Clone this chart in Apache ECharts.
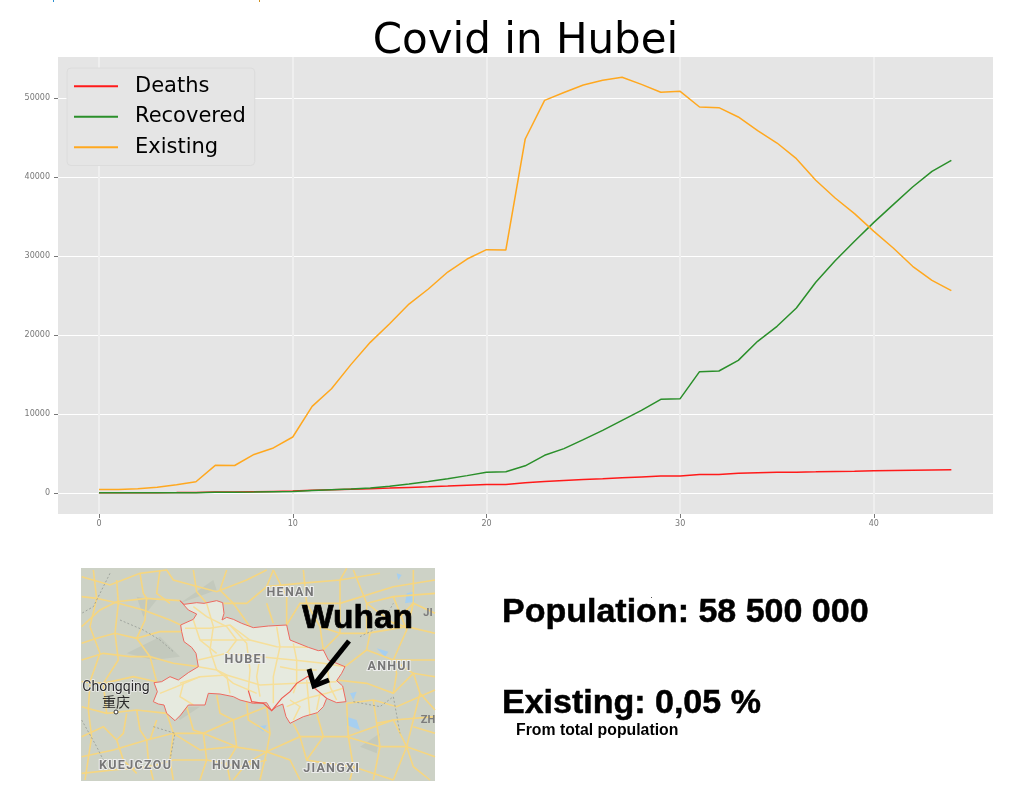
<!DOCTYPE html>
<html><head><meta charset="utf-8">
<style>html,body{margin:0;padding:0;background:#fff}#c{width:1012px;height:808px}</style>
<script src="https://cdn.jsdelivr.net/npm/echarts@6/dist/echarts.min.js"></script>
</head><body><div id="c"></div>
<script>
const days = [0,1,2,3,4,5,6,7,8,9,10,11,12,13,14,15,16,17,18,19,20,21,22,23,24,25,26,27,28,29,30,31,32,33,34,35,36,37,38,39,40,41,42,43,44];
const deaths = [17,17,24,40,52,76,125,125,162,204,249,350,414,479,549,618,699,780,871,974,1068,1068,1310,1457,1596,1696,1789,1921,2029,2144,2144,2346,2346,2495,2563,2615,2641,2682,2727,2761,2803,2835,2871,2902,2931];
const recovered = [28,28,31,32,42,44,80,84,116,166,200,320,420,500,640,850,1130,1450,1800,2200,2640,2690,3440,4770,5620,6750,7930,9200,10460,11860,11940,15360,15440,16790,19200,21100,23420,26670,29410,31860,34260,36500,38730,40720,42110];
const existing = [444,444,549,729,1052,1423,3500,3480,4880,5700,7090,10970,13200,16250,19070,21430,23920,25820,27970,29620,30800,30760,44810,49700,50700,51650,52240,52620,51730,50720,50840,48860,48780,47600,45860,44300,42320,39580,37340,35360,33120,31010,28700,26920,25610];
const xTicks = [0,10,20,30,40];
const yTicks = [0,10000,20000,30000,40000,50000];
const titleText = 'Covid in Hubei';
const infoTexts = ['Population: 58 500 000','Existing: 0,05 %','From total population'];

// Map illustration, outline and roads in crop coordinates
const Z = p => [60 + p[0]/3, 560 + p[1]/3];
const hubei = [[360,122],[372,133],[410,128],[432,130],[470,122],[488,128],[492,160],[486,180],[500,172],[520,178],[545,190],[580,203],[625,198],[680,195],[690,240],[720,252],[745,262],[775,272],[790,270],[805,300],[855,320],[845,340],[830,362],[848,378],[858,425],[830,428],[800,415],[790,440],[772,458],[730,470],[690,490],[678,470],[668,432],[650,440],[635,452],[620,428],[580,430],[540,420],[520,410],[480,402],[445,400],[435,435],[385,435],[362,465],[345,482],[320,460],[312,435],[295,432],[280,425],[292,395],[282,368],[305,365],[330,350],[355,360],[385,338],[415,320],[408,280],[395,262],[372,245],[365,215],[362,195],[400,178],[410,162],[385,150]];
const wuhanEdge = [[565,392],[575,425],[610,430],[635,452],[665,415],[690,395],[710,370],[745,348],[765,385],[800,415]];
const roads = [
[[65,50],[150,75],[240,40],[320,30],[340,60],[470,95],[560,60],[620,30]],
[[65,200],[120,150],[170,125],[260,115],[360,122]],
[[170,60],[175,130],[165,220],[175,300],[130,370],[140,460]],
[[240,40],[250,100],[260,115],[255,180],[230,235],[270,290],[290,365]],
[[65,300],[130,280],[210,290],[270,290],[340,310],[415,320]],
[[65,365],[130,370],[220,350],[290,365]],
[[65,440],[140,460],[230,450],[320,460],[340,520],[330,600],[340,660]],
[[65,530],[130,500],[170,540],[190,600],[230,640]],
[[65,590],[160,570],[260,540],[340,520],[430,520],[520,480],[620,440]],
[[340,520],[420,570],[520,560],[620,575],[720,530],[860,530],[1000,480],[1125,470]],
[[620,440],[630,520],[620,575],[600,660]],
[[620,575],[690,600],[720,660]],
[[720,530],[700,490]],
[[860,430],[865,530],[880,620],[870,660]],
[[1000,480],[1040,560],[1125,590]],
[[860,530],[960,560],[1040,560],[1000,660]],
[[430,520],[440,600],[420,660]],
[[520,480],[530,560],[500,610],[510,660]],
[[260,540],[265,600],[280,660]],
[[860,430],[940,420],[1010,440],[1125,390]],
[[855,320],[920,270],[1000,300],[1125,300]],
[[830,360],[920,370],[1000,400],[1060,340],[1125,350]],
[[790,270],[840,220],[920,220],[1040,200],[1125,220]],
[[840,220],[840,130],[840,60],[860,25]],
[[920,220],[920,130],[1000,110],[1125,100]],
[[680,195],[720,130],[840,130],[1000,80],[1125,60]],
[[620,80],[720,70],[840,60],[960,40]],
[[1000,110],[1040,210],[1000,300],[1010,340],[1000,400]],
[[490,130],[560,130],[620,80],[640,30]],
[[1060,30],[1060,130],[1040,210]],
[[65,110],[110,115],[175,130],[250,150],[330,180],[362,195]],
[[65,250],[110,235],[165,220],[230,235],[300,215],[365,215]],
[[100,30],[110,115],[90,200],[120,280],[90,365],[85,450],[95,530],[75,660]],
[[300,30],[290,100],[330,130]],
[[400,30],[410,95],[440,130]],
[[500,30],[480,90],[520,130],[570,200]],
[[65,640],[160,630],[270,620],[340,600],[440,600],[540,620],[620,600]],
[[200,460],[190,520],[170,540]],
[[230,450],[240,510],[260,540]],
[[290,480],[270,540]],
[[380,440],[400,510],[430,520]],
[[470,405],[480,460],[520,480]],
[[560,425],[565,480],[630,520]],
[[430,520],[530,560]],
[[640,30],[680,110],[680,195]],
[[730,30],[740,130],[780,200],[790,270]],
[[620,130],[640,190]],
[[780,200],[840,220]],
[[880,30],[920,130],[1000,190],[1040,200]],
[[1125,160],[1060,130],[1000,190]],
[[920,270],[930,220]],
[[1000,300],[1060,340],[1080,400],[1125,450]],
[[1080,400],[1060,480],[1040,560]],
[[940,420],[950,490],[1000,480]],
[[950,490],[960,560],[940,660]],
[[720,530],[740,600],[800,610],[880,620],[1000,660]],
[[770,460],[790,530],[740,600]],
[[620,575],[560,610],[520,660]],
[[1040,560],[1060,620],[1110,660]],
[[1125,520],[1060,500]]
];
const innerRoads = [
[[375,205],[450,205],[510,195],[570,240],[650,260],[745,262]],
[[415,300],[500,280],[600,290],[700,300],[790,310],[855,320]],
[[360,370],[420,350],[500,345],[600,375],[710,370],[830,365]],
[[440,130],[460,200],[450,270],[470,330],[500,345]],
[[510,195],[560,250],[570,330],[565,392]],
[[650,200],[660,260],[640,350],[640,430]],
[[700,250],[710,300],[710,370],[700,400]],
[[300,400],[350,380],[420,350]],
[[370,370],[360,410],[400,435]],
[[680,440],[740,415],[800,400],[850,385]],
[[740,360],[745,415],[750,470]],
[[800,310],[810,380],[830,420]],
[[400,140],[440,170],[500,200],[530,240],[500,280]],
[[500,345],[510,400]],
[[415,320],[470,330],[520,370],[590,400]],
[[600,290],[590,350],[600,410]],
[[420,240],[500,240],[570,240]],
[[660,320],[710,330],[770,330]],
[[470,280],[420,240],[400,180]],
[[690,420],[720,440],[700,480]],
[[780,400],[770,450]]
];
const greys = [
[[360,130],[460,60],[470,90]],[[200,280],[300,230],[360,290],[280,300]],
[[330,440],[420,440],[360,480]],[[230,110],[290,120],[250,170]],[[900,560],[960,520],[950,580]],
[[430,310],[470,320],[440,345]]
];
const waters = [
[[1040,100],[1060,95],[1065,125],[1035,130]],[[950,265],[985,275],[975,290]],[[860,470],[890,480],[900,510],[860,495]],
[[590,500],[620,495],[610,515]],[[480,370],[500,375],[490,385]],[[730,395],[750,390],[748,410]],[[1010,40],[1025,45],[1015,60]],
[[870,400],[890,395],[880,420]]
];
const dashes = [
[[150,40],[120,100],[100,140],[65,160]],[[180,180],[250,210],[300,240],[340,275]],[[280,500],[345,520],[330,600]],
[[880,425],[960,440],[1000,410],[1020,520]],[[900,230],[960,200],[1000,130]],[[65,480],[110,560],[130,600]]
];
const g = [];
const poly = (pts, style, z) => ({type:'polygon', z:z, shape:{points:pts.map(Z)}, style:style});
const line = (pts, style, z) => ({type:'polyline', z:z, shape:{points:pts.map(Z)}, style:style});
g.push({type:'rect', z:10, shape:{x:81,y:568,width:354,height:213}, style:{fill:'#cdd2c6'}});
greys.forEach(p=>g.push(poly(p,{fill:'#c3c9bd'},11)));
waters.forEach(p=>g.push(poly(p,{fill:'#a6cff0'},12)));
roads.forEach(p=>g.push(line(p,{fill:null,stroke:'#f6d680',lineWidth:1.6},12)));
g.push(poly(hubei,{fill:'#e6eadf'},13));
innerRoads.forEach(p=>g.push(line(p,{fill:null,stroke:'#f6df9a',lineWidth:1.5},14)));
dashes.forEach(p=>g.push(line(p,{fill:null,stroke:'#9a9f98',lineWidth:0.9,lineDash:[2,2]},14)));
g.push(poly(hubei,{fill:null,stroke:'#ee6a60',lineWidth:1},15));
g.push(line(wuhanEdge,{fill:null,stroke:'#ee5a50',lineWidth:1.2},15));
const spaced = s => s.split('').join('\u200a');
const mapLabels = [['HENAN',290,593],['HUBEI',245,660],['ANHUI',389,667],['KUEJCZOU',135,766],['HUNAN',236,766],['JIANGXI',331,769]];
mapLabels.forEach(l=>g.push({type:'text',z:16,style:{x:l[1],y:l[2],text:spaced(l[0]),fill:'#777',stroke:'#eeeeee',lineWidth:2,font:'bold 12.5px Roboto, sans-serif',align:'center',verticalAlign:'middle'}}));
g.push({type:'text',z:16,style:{x:428,y:613,text:'JI',fill:'#7c7c7c',font:'bold 11px Roboto',align:'center',verticalAlign:'middle'}});
g.push({type:'text',z:16,style:{x:428,y:720,text:'ZH',fill:'#7c7c7c',font:'bold 11px Roboto',align:'center',verticalAlign:'middle'}});
g.push({type:'text',z:16,style:{x:116,y:687,text:'Chongqing',fill:'#2a2a2a',stroke:'#eeeeee',lineWidth:1.5,font:'14px Roboto',align:'center',verticalAlign:'middle'}});
g.push({type:'text',z:16,style:{x:116,y:702,text:'重庆',fill:'#2a2a2a',font:'14px "Noto Sans CJK SC"',align:'center',verticalAlign:'middle'}});
g.push({type:'circle',z:16,shape:{cx:116,cy:712,r:2},style:{fill:'#fff',stroke:'#333',lineWidth:1}});
g.push({type:'text',z:17,style:{x:302,y:619,text:'Wuhan',fill:'#000',stroke:'#000',lineWidth:0.7,font:'bold 33.5px "Liberation Sans"',verticalAlign:'middle'}});
g.push({type:'polyline',z:17,shape:{points:[[349,641],[313,686]]},style:{fill:null,stroke:'#000',lineWidth:5}});
g.push({type:'polyline',z:17,shape:{points:[[309,669],[314,686],[329,680]]},style:{fill:null,stroke:'#000',lineWidth:5}});
// info text
g.push({type:'text',style:{x:502,y:613,text:infoTexts[0],fill:'#000',stroke:'#000',lineWidth:0.5,font:'bold 34px "Liberation Sans"',verticalAlign:'middle'}});
g.push({type:'text',style:{x:502,y:704,text:infoTexts[1],fill:'#000',stroke:'#000',lineWidth:0.5,font:'bold 34px "Liberation Sans"',verticalAlign:'middle'}});
g.push({type:'text',style:{x:516,y:731,text:infoTexts[2],fill:'#000',font:'bold 15.8px "Liberation Sans"',verticalAlign:'middle'}});
g.push({type:'rect',shape:{x:651,y:597,width:1,height:1},style:{fill:'#555'}});
g.push({type:'rect',shape:{x:53,y:0,width:1,height:2},style:{fill:'#2a8fd0'}});
g.push({type:'rect',shape:{x:259,y:0,width:1,height:2},style:{fill:'#d09020'}});

const chart = echarts.init(document.getElementById('c'),null,{renderer:'canvas'});
const tickLabel = {color:'#777',fontSize:8,fontFamily:'DejaVu Sans',formatter:v=>String(v)};
const mk = (name,data,color)=>({name,type:'line',data:data.map((v,i)=>[days[i],v]),showSymbol:false,symbol:'none',lineStyle:{color,width:1.5},itemStyle:{color},z:5,animation:false});
chart.setOption({
  animation:false,
  backgroundColor:'#fff',
  title:{text:titleText,left:520.5,top:37,textAlign:'center',textVerticalAlign:'middle',textStyle:{fontFamily:'DejaVu Sans',fontSize:42,fontWeight:'normal',color:'#000'}},
  grid:{left:58,top:57,width:935,height:457,show:true,backgroundColor:'#e5e5e5',borderWidth:0},
  legend:{left:67,top:68,orient:'vertical',padding:[3,9,3,7],itemGap:0,itemWidth:44,itemHeight:2,icon:'rect',
    backgroundColor:'#e5e5e5',borderColor:'#dcdcdc',borderWidth:1,borderRadius:4,
    textStyle:{fontFamily:'DejaVu Sans',fontSize:21,color:'#000',lineHeight:30.5,padding:[0,0,0,12]},data:['Deaths','Recovered','Existing']},
  xAxis:{type:'value',min:-2.12,max:46.15,
    axisLine:{show:false,onZero:false},
    axisTick:{show:true,length:4,lineStyle:{color:'#777'},customValues:xTicks},
    axisLabel:{...tickLabel,margin:6,customValues:xTicks},
    splitLine:{show:true,lineStyle:{color:'#efefef',width:2}}},
  yAxis:{type:'value',min:-2658,max:55190,
    axisLine:{show:false,onZero:false},
    axisTick:{show:true,length:4,lineStyle:{color:'#777'},customValues:yTicks},
    axisLabel:{...tickLabel,margin:8,customValues:yTicks},
    splitLine:{show:true,lineStyle:{color:'#fff',width:1.2}}},
  series:[mk('Deaths',deaths,'#ff1a1a'),mk('Recovered',recovered,'#2a8f2a'),mk('Existing',existing,'#ffa81f')],
  graphic:{elements:g}
});
</script></body></html>
